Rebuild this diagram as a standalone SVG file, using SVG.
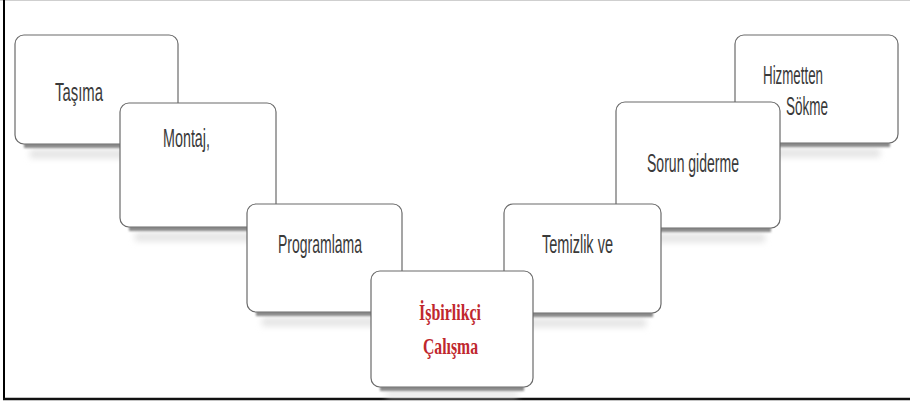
<svg xmlns="http://www.w3.org/2000/svg" width="910" height="404" viewBox="0 0 910 404">
  <style>
    .card { fill: #ffffff; stroke: #6a6a6a; stroke-width: 1.2; }
    .shadow { fill: #8a8a8a; filter: url(#soft); }
    .halo { fill: #e2e2e2; filter: url(#wide); }
    .lbl { font-family: "Liberation Sans", Arial, sans-serif; font-size: 26px; fill: #3a3a3a; }
    .hot { font-family: "Liberation Serif", "Times New Roman", serif; font-size: 24px; font-weight: bold; fill: #c0272d; }
  </style>
  <defs>
    <filter id="soft" x="-10%" y="-100%" width="120%" height="300%">
      <feGaussianBlur stdDeviation="1.3"/>
    </filter>
    <filter id="wide" x="-10%" y="-100%" width="120%" height="300%">
      <feGaussianBlur stdDeviation="3"/>
    </filter>
  </defs>

  <rect x="0" y="0" width="910" height="404" fill="#ffffff"/>

  <!-- outer frame -->
  <line x1="0" y1="0.5" x2="910" y2="0.5" stroke="#cfcfcf" stroke-width="1"/>
  <line x1="4" y1="0" x2="4" y2="400" stroke="#000000" stroke-width="2"/>
  <line x1="3" y1="399" x2="910" y2="399" stroke="#111111" stroke-width="2.5"/>

  <g id="connectors"/>

  <!-- left descending stack -->
  <g id="tasima">
    <rect class="halo" x="30" y="150" width="130" height="8"/>
    <rect class="shadow" x="24" y="143" width="146" height="5"/>
    <rect class="card" x="15" y="35" width="163" height="109" rx="9"/>
    <text class="lbl" x="55" y="101" textLength="48" lengthAdjust="spacingAndGlyphs">Taşıma</text>
  </g>

  <g id="montaj">
    <rect class="halo" x="135" y="233" width="125" height="8"/>
    <rect class="shadow" x="129" y="226" width="139" height="5"/>
    <rect class="card" x="120" y="103" width="156" height="124" rx="9"/>
    <text class="lbl" x="163" y="147" textLength="47" lengthAdjust="spacingAndGlyphs">Montaj,</text>
  </g>

  <g id="programlama">
    <rect class="halo" x="262" y="318" width="125" height="8"/>
    <rect class="shadow" x="256" y="311" width="138" height="5"/>
    <rect class="card" x="247" y="204" width="155" height="108" rx="9"/>
    <text class="lbl" x="278" y="253" textLength="84" lengthAdjust="spacingAndGlyphs">Programlama</text>
  </g>

  <!-- right ascending stack -->
  <g id="hizmetten">
    <rect class="halo" x="750" y="149" width="130" height="8"/>
    <rect class="shadow" x="744" y="142" width="146" height="5"/>
    <rect class="card" x="735" y="35" width="163" height="108" rx="9"/>
    <text class="lbl" x="763" y="84" textLength="60" lengthAdjust="spacingAndGlyphs">Hizmetten</text>
    <text class="lbl" x="786" y="115" textLength="42" lengthAdjust="spacingAndGlyphs">Sökme</text>
  </g>

  <g id="sorun-giderme">
    <rect class="halo" x="631" y="234" width="134" height="8"/>
    <rect class="shadow" x="625" y="227" width="146" height="5"/>
    <rect class="card" x="616" y="102" width="164" height="126" rx="9"/>
    <text class="lbl" x="647" y="172" textLength="92" lengthAdjust="spacingAndGlyphs">Sorun giderme</text>
  </g>

  <g id="temizlik">
    <rect class="halo" x="519" y="319" width="127" height="8"/>
    <rect class="shadow" x="513" y="312" width="140" height="5"/>
    <rect class="card" x="504" y="204" width="157" height="109" rx="9"/>
    <text class="lbl" x="542" y="253" textLength="71" lengthAdjust="spacingAndGlyphs">Temizlik ve</text>
  </g>

  <!-- central highlighted card -->
  <g id="isbirlikci">
    <rect class="halo" x="386" y="392" width="132" height="5"/>
    <rect class="shadow" x="380" y="386" width="144" height="5"/>
    <rect class="card" x="371" y="271" width="162" height="116" rx="9"/>
    <text class="hot" x="419" y="320" textLength="62" lengthAdjust="spacingAndGlyphs">İşbirlikçi</text>
    <text class="hot" x="423" y="354" textLength="55" lengthAdjust="spacingAndGlyphs">Çalışma</text>
  </g>
</svg>
